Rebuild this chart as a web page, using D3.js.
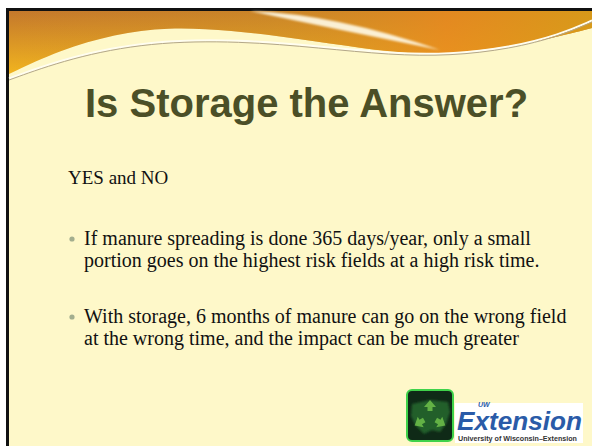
<!DOCTYPE html>
<html>
<head>
<meta charset="utf-8">
<script src="https://cdn.jsdelivr.net/npm/d3@7"></script>
<style>
  body { margin: 0; background: #fff; }
  svg { display: block; }
  .serif { font-family: "Liberation Serif", "Times New Roman", serif; }
  .sans { font-family: "Liberation Sans", Arial, sans-serif; }
</style>
</head>
<body>
<div id="slide"></div>
<script>
// slide content
const title = "Is Storage the Answer?";
const intro = "YES and NO";
const bullets = [
  ["If manure spreading is done 365 days/year, only a small",
   "portion goes on the highest risk fields at a high risk time."],
  ["With storage, 6 months of manure can go on the wrong field",
   "at the wrong time, and the impact can be much greater"]
];
const logoWords = ["UW", "Extension", "University of Wisconsin\u2013Extension"];

// header wave outline (left to right)
const waveEdge = [[9, 74], [60, 50], [115, 34], [167, 27], [230, 30], [300, 39], [360, 48], [420, 55], [480, 51], [540, 41], [592, 28]];
const thinLine = [[9, 80], [70, 58], [150, 42], [240, 41], [320, 48], [390, 55], [450, 56], [510, 49], [560, 36], [592, 22]];

const W = 592, H = 446;
const svg = d3.select("#slide").append("svg").attr("width", W).attr("height", H);
const defs = svg.append("defs");

const gV = defs.append("linearGradient").attr("id", "gv").attr("x1", 0).attr("y1", 0).attr("x2", 0).attr("y2", 1);
gV.append("stop").attr("offset", "0%").attr("stop-color", "#c4782c");
gV.append("stop").attr("offset", "100%").attr("stop-color", "#f1b41f");

const gH = defs.append("linearGradient").attr("id", "gh").attr("x1", 0).attr("y1", 0).attr("x2", 1).attr("y2", 0);
gH.append("stop").attr("offset", "0%").attr("stop-color", "#d8a020").attr("stop-opacity", 0);
gH.append("stop").attr("offset", "45%").attr("stop-color", "#d49a22").attr("stop-opacity", 0.35);
gH.append("stop").attr("offset", "75%").attr("stop-color", "#ea8c1e").attr("stop-opacity", 0.8);
gH.append("stop").attr("offset", "100%").attr("stop-color", "#d99c18").attr("stop-opacity", 0.9);

const blur = defs.append("filter").attr("id", "bl");
blur.append("feGaussianBlur").attr("stdDeviation", 1.2);

// background + frame
svg.append("rect").attr("x", 7.5).attr("y", 9.5).attr("width", 620).attr("height", 480)
  .attr("fill", "#fef8c9").attr("stroke", "#111").attr("stroke-width", 3);

const line = d3.line().curve(d3.curveBasis);
const band = d3.area().x(d => d[0]).y0(11).y1(d => d[1]).curve(d3.curveBasis);

svg.append("path").attr("d", band(waveEdge)).attr("fill", "url(#gv)");
svg.append("path").attr("d", band(waveEdge)).attr("fill", "url(#gh)");

// white streak
svg.append("path")
  .attr("d", "M250,11 Q335,14 440,50 Q340,30 250,11 Z")
  .attr("fill", "#fffbe8").attr("opacity", 0.9).attr("filter", "url(#bl)");

// thin lines under the wave
svg.append("path").attr("d", line(thinLine)).attr("fill", "none")
  .attr("stroke", "#fffdf0").attr("stroke-width", 2).attr("transform", "translate(0,-1.5)");
svg.append("path").attr("d", line(thinLine)).attr("fill", "none")
  .attr("stroke", "#b3a78a").attr("stroke-width", 1);

// title
svg.append("text").attr("class", "sans").attr("x", 85).attr("y", 117)
  .attr("font-weight", "bold").attr("font-size", 40).attr("fill", "#4b4f27").text(title);

// body
const body = svg.append("g").attr("class", "serif").attr("fill", "#111");
body.append("text").attr("x", 68).attr("y", 184).attr("font-size", 19).text(intro);

const bulletY = d3.scalePoint().domain(d3.range(bullets.length)).range([245, 323]);
bullets.forEach((b, i) => {
  const y0 = bulletY(i);
  body.append("circle").attr("cx", 72).attr("cy", y0 - 6).attr("r", 2.6).attr("fill", "#a3ae8e");
  b.forEach((t, j) => body.append("text").attr("x", 84).attr("y", y0 + j * 22)
    .attr("font-size", 20).text(t));
});

// logos
const icon = svg.append("g");
icon.append("rect").attr("x", 407).attr("y", 390).attr("width", 46).attr("height", 51).attr("rx", 5)
  .attr("fill", "#0f2a17").attr("stroke", "#3fd24a").attr("stroke-width", 2);
icon.append("path")
  .attr("d", "M412,404 L430,400 L448,402 L450,412 L446,424 L440,432 L432,430 L424,434 L416,426 L411,416 Z")
  .attr("fill", "#235f2c").attr("filter", "url(#bl)");
const arrows = [[430, 405, 0], [441, 423, 120], [419, 423, 240]];
arrows.forEach(a => {
  icon.append("path").attr("d", "M-6,2 L0,-5 L6,2 L2.5,2 L2.5,6 L-2.5,6 L-2.5,2 Z")
    .attr("transform", `translate(${a[0]},${a[1]}) rotate(${a[2]})`)
    .attr("fill", "#6fbf4a").attr("opacity", 0.85);
});

const ext = svg.append("g").attr("class", "sans");
ext.append("rect").attr("x", 455).attr("y", 403).attr("width", 128).attr("height", 40).attr("fill", "#fff");
ext.append("text").attr("x", 478).attr("y", 406.5)
  .attr("font-style", "italic").attr("font-weight", "bold").attr("font-size", 7).attr("fill", "#2a5ba8")
  .text(logoWords[0]);
ext.append("text").attr("x", 457).attr("y", 430)
  .attr("font-style", "italic").attr("font-weight", "bold").attr("font-size", 25).attr("fill", "#2a5ba8")
  .attr("textLength", 125).attr("lengthAdjust", "spacingAndGlyphs").text(logoWords[1]);
ext.append("text").attr("x", 458).attr("y", 441)
  .attr("font-weight", "bold").attr("font-size", 6.5).attr("fill", "#333")
  .attr("textLength", 119).attr("lengthAdjust", "spacingAndGlyphs").text(logoWords[2]);
</script>
</body>
</html>
